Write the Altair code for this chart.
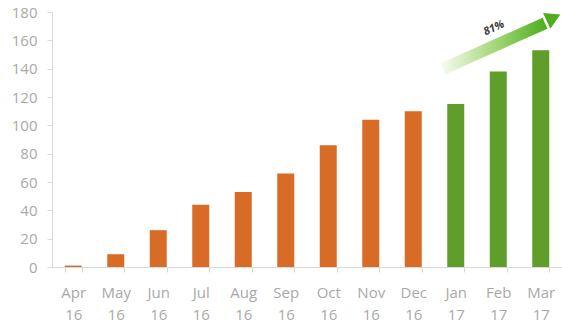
import altair as alt
import pandas as pd

months = ["Apr 16", "May 16", "Jun 16", "Jul 16", "Aug 16", "Sep 16",
          "Oct 16", "Nov 16", "Dec 16", "Jan 17", "Feb 17", "Mar 17"]
values = [1, 9, 26, 44, 53, 66, 86, 104, 110, 115, 138, 153]
groups = ["2016"] * 9 + ["2017"] * 3

# arrow annotation (position in category units 0..12 and value units)
arrow_x = [9.2, 11.6]
arrow_y = [140, 172]
head_x = [11.8]
head_y = [176]
label_x = [10.4]
label_y = [168.5]
label_text = ["81%"]

FONT = "Open Sans"
GRAY = "#a9a9a9"

df = pd.DataFrame({"month": months, "value": values, "grp": groups})

bars = alt.Chart(df).mark_bar().encode(
    x=alt.X("month:N", sort=months, title=None,
            scale=alt.Scale(paddingInner=0.6, paddingOuter=0.3),
            axis=alt.Axis(labelExpr="split(datum.label, ' ')", labelAngle=0,
                          labelColor=GRAY, labelFont=FONT, labelFontSize=15,
                          labelPadding=13, labelLineHeight=22, tickBand="extent",
                          domainColor="#d9d9d9", tickColor="#d9d9d9", tickSize=5,
                          labelBaseline="top")),
    y=alt.Y("value:Q", title=None, scale=alt.Scale(domain=[0, 180], nice=False),
            axis=alt.Axis(values=list(range(0, 181, 20)), grid=False,
                          labelOverlap=False,
                          labelColor=GRAY, labelFont=FONT, labelFontSize=15,
                          labelPadding=10, domainColor="#d9d9d9",
                          tickColor="#d9d9d9", tickSize=5)),
    color=alt.Color("grp:N", legend=None,
                    scale=alt.Scale(domain=["2016", "2017"],
                                    range=["#d86b26", "#5f9e2b"])),
)

xq = alt.Scale(domain=[0, 12], nice=False, zero=False)
yq = alt.Scale(domain=[0, 180], nice=False)

arrow_df = pd.DataFrame({"x": arrow_x, "y": arrow_y})
arrow = alt.Chart(arrow_df).mark_line(
    strokeWidth=12, strokeCap="butt",
    stroke=alt.LinearGradient(
        gradient="linear", x1=0, y1=0, x2=1, y2=0,
        stops=[alt.GradientStop(offset=0, color="#f4faee"),
               alt.GradientStop(offset=0.5, color="#a6d879"),
               alt.GradientStop(offset=1, color="#4fae1f")]),
).encode(
    x=alt.X("x:Q", scale=xq, axis=None),
    y=alt.Y("y:Q", scale=yq, axis=None),
)

head = alt.Chart(pd.DataFrame({"x": head_x, "y": head_y})).mark_point(
    shape="triangle-right", filled=True, color="#4fae1f", opacity=1,
    size=300, angle=335,
).encode(
    x=alt.X("x:Q", scale=xq, axis=None),
    y=alt.Y("y:Q", scale=yq, axis=None),
)

label = alt.Chart(pd.DataFrame({"x": label_x, "y": label_y, "t": label_text})).mark_text(
    font=FONT, fontSize=11, fontWeight="bold", fontStyle="italic",
    color="#404040", angle=335,
).encode(
    x=alt.X("x:Q", scale=xq, axis=None),
    y=alt.Y("y:Q", scale=yq, axis=None),
    text="t:N",
)

chart = alt.layer(bars, arrow, head, label).resolve_scale(
    x="independent", y="independent"
).properties(
    width=510, height=255,
    autosize=alt.AutoSizeParams(type="none"),
    padding={"left": 52, "top": 12, "right": 0, "bottom": 57},
    view=alt.ViewBackground(stroke="transparent"),
).configure_view(stroke="transparent").configure(background="white")

chart.save("out.html", embed_options={"renderer": "svg", "actions": False})
